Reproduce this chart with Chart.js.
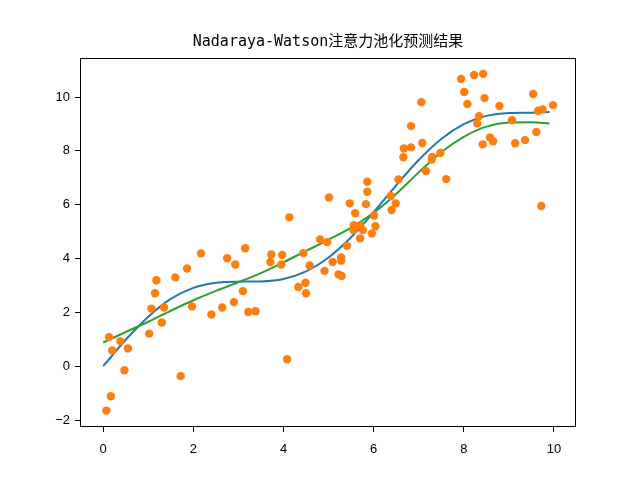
<!DOCTYPE html>
<html>
<head>
<meta charset="utf-8">
<title>Nadaraya-Watson注意力池化预测结果</title>
<script src="https://cdn.jsdelivr.net/npm/chart.js@4.4.1/dist/chart.umd.min.js"></script>
<style>
  html, body { margin: 0; background: #fff; }
  canvas { display: block; }
</style>
</head>
<body>
<canvas id="chart" width="640" height="480"></canvas>
<script>
// tick labels
const xTicks = [0, 2, 4, 6, 8, 10];
const yTicks = [-2, 0, 2, 4, 6, 8, 10];

// test inputs for the two curves
const testX = [0, 0.5, 1, 1.5, 2, 2.5, 3, 3.5, 4, 4.5, 5, 5.5, 6, 6.5, 7, 7.5, 8, 8.5, 9, 9.5, 9.9];
// blue: true function
const truthY = [0, 0.98, 1.84, 2.5, 2.91, 3.1, 3.14, 3.15, 3.24, 3.52, 4.04, 4.79, 5.72, 6.72, 7.66, 8.44, 8.99, 9.3, 9.41, 9.42, 9.44];
// green: attention pooling prediction
const predY = [0.88, 1.27, 1.65, 2.06, 2.45, 2.8, 3.12, 3.46, 3.86, 4.28, 4.7, 5.15, 5.7, 6.4, 7.2, 7.95, 8.52, 8.9, 9.05, 9.06, 9.02];

// orange: training samples
const trainX = [0.07, 0.13, 0.17, 0.20, 0.38, 0.47, 0.55, 1.02, 1.07, 1.15, 1.18, 1.30, 1.35, 1.60, 1.72, 1.86, 1.97, 2.17, 2.40, 2.64,
                2.75, 2.90, 2.93, 3.10, 3.15, 3.22, 3.38, 3.71, 3.73, 3.95, 3.97, 4.08, 4.13, 4.33, 4.44, 4.49, 4.50, 4.58, 4.81, 4.91,
                4.97, 5.01, 5.09, 5.22, 5.28, 5.28, 5.29, 5.41, 5.47, 5.55, 5.56, 5.59, 5.70, 5.70, 5.76, 5.83, 5.86, 5.86, 5.96, 6.01,
                6.04, 6.38, 6.40, 6.49, 6.55, 6.66, 6.67, 6.83, 6.83, 7.06, 7.08, 7.16, 7.29, 7.30, 7.48, 7.61, 7.94, 8.01, 8.08, 8.23,
                8.30, 8.34, 8.42, 8.43, 8.46, 8.58, 8.65, 8.79, 9.07, 9.14, 9.36, 9.54, 9.61, 9.65, 9.72, 9.75, 9.98];
const trainY = [-1.65, 1.08, -1.12, 0.58, 0.93, -0.15, 0.66, 1.21, 2.14, 2.71, 3.19, 1.62, 2.18, 3.30, -0.37, 3.63, 2.22, 4.19, 1.92, 2.18,
                4.01, 2.38, 3.78, 2.79, 4.38, 2.01, 2.04, 3.87, 4.15, 3.78, 4.13, 0.26, 5.53, 2.94, 4.20, 3.10, 2.71, 3.74, 4.71, 3.54,
                4.61, 6.27, 3.87, 3.41, 4.04, 3.92, 3.35, 4.47, 6.05, 5.06, 5.24, 5.68, 5.24, 4.75, 5.06, 6.02, 6.85, 6.48, 4.93, 5.60,
                5.20, 6.32, 5.80, 6.05, 6.94, 7.76, 8.09, 8.13, 8.92, 9.81, 8.29, 7.25, 7.68, 7.77, 7.92, 6.95, 10.67, 10.19, 9.74, 10.82,
                9.02, 9.29, 8.24, 10.86, 9.96, 8.50, 8.36, 9.67, 9.14, 8.28, 8.40, 10.11, 8.70, 9.49, 5.95, 9.54, 9.70];

const toPoints = (xs, ys) => xs.map((x, i) => ({ x: x, y: ys[i] }));
const fmt = v => (v < 0 ? '\u2212' + Math.abs(v) : String(v));

// matplotlib style box around the axes
const frame = {
    id: 'frame',
    afterDraw(chart) {
        const { ctx, chartArea: a } = chart;
        ctx.save();
        ctx.strokeStyle = '#000';
        ctx.lineWidth = 1;
        ctx.strokeRect(Math.round(a.left) + 0.5, Math.round(a.top) + 0.5,
                       Math.round(a.right - a.left) - 1, Math.round(a.bottom - a.top) - 1);
        ctx.restore();
    }
};

const tickFont = { family: "'Liberation Sans', Arial, sans-serif", size: 13 };
const tickGrid = { drawOnChartArea: false, drawTicks: true, tickLength: 5, color: '#000', lineWidth: 1 };

new Chart(document.getElementById('chart').getContext('2d'), {
    type: 'scatter',
    data: {
        datasets: [
            {
                type: 'scatter',
                data: toPoints(trainX, trainY),
                backgroundColor: '#ff7f0e',
                borderWidth: 0,
                pointRadius: 4.2,
                order: 0
            },
            {
                type: 'line',
                data: toPoints(testX, predY),
                borderColor: '#2ca02c',
                borderWidth: 2,
                pointRadius: 0,
                cubicInterpolationMode: 'monotone',
                fill: false,
                order: 1
            },
            {
                type: 'line',
                data: toPoints(testX, truthY),
                borderColor: '#1f77b4',
                borderWidth: 2,
                pointRadius: 0,
                cubicInterpolationMode: 'monotone',
                fill: false,
                order: 2
            }
        ]
    },
    options: {
        responsive: false,
        animation: false,
        layout: { padding: { left: 0, right: 64, top: 0, bottom: 0 } },
        plugins: {
            legend: { display: false },
            tooltip: { enabled: false },
            title: {
                display: true,
                fullSize: false,
                text: 'Nadaraya-Watson注意力池化预测结果',
                color: '#000',
                font: { family: "'DejaVu Sans Mono', 'Noto Sans CJK SC', monospace", size: 15, weight: 'normal' },
                padding: { top: 33.5, bottom: 6.5 }
            }
        },
        scales: {
            x: {
                type: 'linear',
                min: -0.515,
                max: 10.49,
                afterBuildTicks: s => { s.ticks = xTicks.map(v => ({ value: v })); },
                afterFit: s => { s.height = 53; },
                border: { display: false },
                grid: tickGrid,
                ticks: { color: '#000', font: tickFont, padding: 10, maxRotation: 0, autoSkip: false, callback: fmt }
            },
            y: {
                type: 'linear',
                min: -2.26,
                max: 11.45,
                afterBuildTicks: s => { s.ticks = yTicks.map(v => ({ value: v })); },
                afterFit: s => { s.width = 80; },
                border: { display: false },
                grid: tickGrid,
                ticks: { color: '#000', font: tickFont, padding: 5, autoSkip: false, callback: fmt }
            }
        }
    },
    plugins: [frame]
});
</script>
</body>
</html>
